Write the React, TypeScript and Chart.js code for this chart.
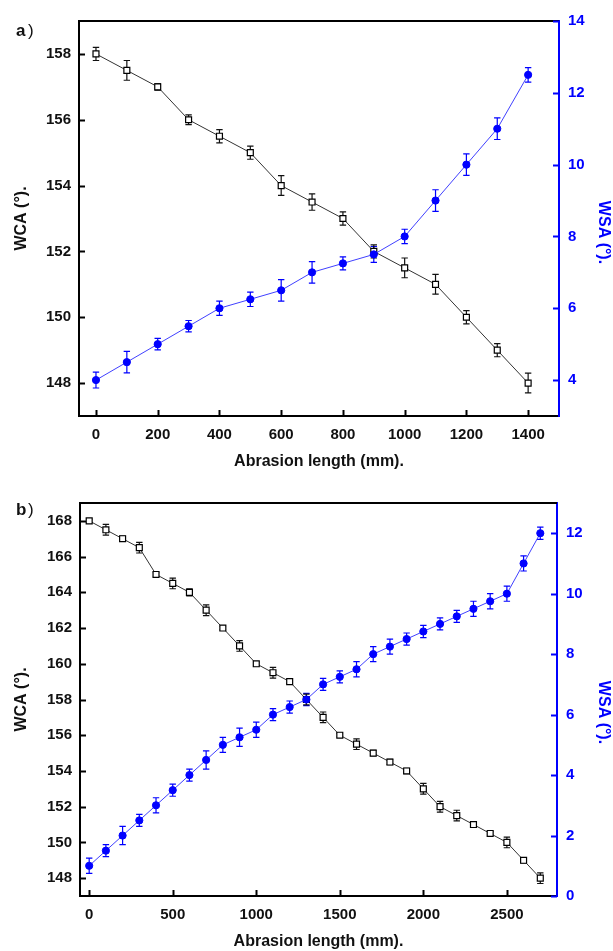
import React, { useEffect, useRef } from 'react';
import { Chart, registerables } from 'chart.js';

Chart.register(...registerables);

// ---- Panel a) ----
const lengthsA = [0, 100, 200, 300, 400, 500, 600, 700, 800, 900, 1000, 1100, 1200, 1300, 1400];
const wcaA = [158, 157.5, 157, 156, 155.5, 155, 154, 153.5, 153, 152, 151.5, 151, 150, 149, 148];
const wcaErrA = [0.2, 0.3, 0.1, 0.15, 0.2, 0.2, 0.3, 0.25, 0.2, 0.2, 0.3, 0.3, 0.2, 0.2, 0.3];
const wsaA = [4.0, 4.5, 5.0, 5.5, 6.0, 6.25, 6.5, 7.0, 7.25, 7.5, 8.0, 9.0, 10.0, 11.0, 12.5];
const wsaErrA = [0.22, 0.3, 0.16, 0.16, 0.2, 0.2, 0.3, 0.3, 0.18, 0.22, 0.2, 0.3, 0.3, 0.3, 0.2];
const xTicksA = [0, 200, 400, 600, 800, 1000, 1200, 1400];
const wcaTicksA = [148, 150, 152, 154, 156, 158];
const wsaTicksA = [4, 6, 8, 10, 12, 14];

// ---- Panel b) ----
const lengthsB = [0, 100, 200, 300, 400, 500, 600, 700, 800, 900, 1000, 1100, 1200, 1300,
  1400, 1500, 1600, 1700, 1800, 1900, 2000, 2100, 2200, 2300, 2400, 2500, 2600, 2700];
const wcaB = [168, 167.5, 167, 166.5, 165, 164.5, 164, 163, 162, 161, 160, 159.5, 159, 158,
  157, 156, 155.5, 155, 154.5, 154, 153, 152, 151.5, 151, 150.5, 150, 149, 148];
const wcaErrB = [0.1, 0.3, 0.15, 0.3, 0.1, 0.3, 0.2, 0.3, 0.1, 0.3, 0.1, 0.3, 0.1, 0.3,
  0.3, 0.1, 0.3, 0.15, 0.15, 0.15, 0.3, 0.3, 0.3, 0.15, 0.1, 0.3, 0.15, 0.3];
const wsaB = [1.0, 1.5, 2.0, 2.5, 3.0, 3.5, 4.0, 4.5, 5.0, 5.25, 5.5, 6.0, 6.25, 6.5,
  7.0, 7.25, 7.5, 8.0, 8.25, 8.5, 8.75, 9.0, 9.25, 9.5, 9.75, 10.0, 11.0, 12.0];
const wsaErrB = [0.25, 0.2, 0.3, 0.2, 0.25, 0.2, 0.2, 0.3, 0.25, 0.3, 0.25, 0.2, 0.2, 0.2,
  0.2, 0.2, 0.25, 0.25, 0.25, 0.2, 0.2, 0.2, 0.2, 0.25, 0.25, 0.25, 0.25, 0.2];
const xTicksB = [0, 500, 1000, 1500, 2000, 2500];
const wcaTicksB = [148, 150, 152, 154, 156, 158, 160, 162, 164, 166, 168];
const wsaTicksB = [0, 2, 4, 6, 8, 10, 12];

const FONT = 'Liberation Sans, Arial, sans-serif';
const BLUE = '#0000ff';
const INK = '#111111';

// Vertical error bars with caps, drawn beneath the markers
const errorBarPlugin = {
  id: 'errorBars',
  beforeDatasetsDraw(chart: any) {
    const ctx = chart.ctx;
    chart.data.datasets.forEach((ds: any, i: number) => {
      if (!ds.errors) return;
      const meta = chart.getDatasetMeta(i);
      const yScale = chart.scales[ds.yAxisID];
      ctx.save();
      ctx.strokeStyle = ds.errorColor;
      ctx.lineWidth = 1.2;
      meta.data.forEach((pt: any, j: number) => {
        const v = ds.data[j].y;
        const e = ds.errors[j];
        const x = pt.x;
        const y1 = yScale.getPixelForValue(v + e);
        const y2 = yScale.getPixelForValue(v - e);
        ctx.beginPath();
        ctx.moveTo(x, y1);
        ctx.lineTo(x, y2);
        ctx.moveTo(x - 3.2, y1);
        ctx.lineTo(x + 3.2, y1);
        ctx.moveTo(x - 3.2, y2);
        ctx.lineTo(x + 3.2, y2);
        ctx.stroke();
      });
      ctx.restore();
    });
  },
};

// Top frame line, inward tick marks, right-hand axis title and the panel letter
const framePlugin = {
  id: 'frame',
  afterDraw(chart: any, _args: any, opts: any) {
    const ctx = chart.ctx;
    const { left, right, top, bottom } = chart.chartArea;
    ctx.save();
    ctx.strokeStyle = '#000';
    ctx.lineWidth = 2;
    ctx.beginPath();
    ctx.moveTo(left - 1, top);
    ctx.lineTo(right, top);
    ctx.stroke();

    const len = 6;
    const xs = chart.scales.x;
    xs.ticks.forEach((t: any) => {
      const px = Math.round(xs.getPixelForValue(t.value)) + 0.5;
      ctx.beginPath();
      ctx.moveTo(px, bottom);
      ctx.lineTo(px, bottom - len);
      ctx.stroke();
    });
    const ys = chart.scales.y;
    ys.ticks.forEach((t: any) => {
      const py = Math.round(ys.getPixelForValue(t.value)) + 0.5;
      ctx.beginPath();
      ctx.moveTo(left, py);
      ctx.lineTo(left + len, py);
      ctx.stroke();
    });
    const ys1 = chart.scales.y1;
    ctx.strokeStyle = BLUE;
    ys1.ticks.forEach((t: any) => {
      const py = Math.round(ys1.getPixelForValue(t.value)) + 0.5;
      ctx.beginPath();
      ctx.moveTo(right, py);
      ctx.lineTo(right - len, py);
      ctx.stroke();
    });

    // right axis title, reading top to bottom
    ctx.save();
    ctx.translate(603, (top + bottom) / 2 + opts.rightTitleShift);
    ctx.rotate(Math.PI / 2);
    ctx.fillStyle = BLUE;
    ctx.font = `bold 16px ${FONT}`;
    ctx.textAlign = 'center';
    ctx.textBaseline = 'middle';
    ctx.fillText('WSA (°).', 0, 0);
    ctx.restore();

    ctx.fillStyle = INK;
    ctx.textBaseline = 'alphabetic';
    ctx.textAlign = 'left';
    ctx.font = `bold 17px ${FONT}`;
    ctx.fillText(opts.letter, 16, opts.baseline);
    ctx.font = `17px ${FONT}`;
    ctx.fillText(')', 28, opts.baseline);
    ctx.restore();
  },
};

type PanelProps = {
  lengths: number[];
  wca: number[];
  wcaErr: number[];
  wsa: number[];
  wsaErr: number[];
  xTicks: number[];
  wcaTicks: number[];
  wsaTicks: number[];
  xMin: number;
  xMax: number;
  wcaMin: number;
  wcaMax: number;
  wsaMin: number;
  wsaMax: number;
  height: number;
  top: number;
  padTop: number;
  leftW: number;
  rightW: number;
  bottomH: number;
  xTitlePad: number;
  letter: string;
  letterBaseline: number;
  rightTitleShift: number;
};

function Panel(p: PanelProps) {
  const ref = useRef<HTMLCanvasElement | null>(null);

  useEffect(() => {
    if (!ref.current) return;
    const tickFont = { family: FONT, weight: 'bold' as const, size: 15 };
    const titleFont = { family: FONT, weight: 'bold' as const, size: 16 };
    const setTicks = (vals: number[]) => (scale: any) => {
      scale.ticks = vals.map((v) => ({ value: v }));
    };
    const plain = (v: any) => String(v);

    const chart = new Chart(ref.current, {
      type: 'line',
      data: {
        datasets: [
          {
            label: 'WSA',
            data: p.lengths.map((x, i) => ({ x, y: p.wsa[i] })),
            yAxisID: 'y1',
            order: 0,
            borderColor: 'rgba(30,30,255,0.85)',
            borderWidth: 1,
            pointStyle: 'circle',
            pointRadius: 3.6,
            pointBackgroundColor: BLUE,
            pointBorderColor: BLUE,
            pointBorderWidth: 1,
            tension: 0,
            errors: p.wsaErr,
            errorColor: BLUE,
          } as any,
          {
            label: 'WCA',
            data: p.lengths.map((x, i) => ({ x, y: p.wca[i] })),
            yAxisID: 'y',
            order: 1,
            borderColor: '#333333',
            borderWidth: 1,
            pointStyle: 'rect',
            pointRadius: 4.2,
            pointBackgroundColor: '#ffffff',
            pointBorderColor: '#000000',
            pointBorderWidth: 1.2,
            tension: 0,
            errors: p.wcaErr,
            errorColor: '#111111',
          } as any,
        ],
      },
      options: {
        animation: false,
        responsive: false,
        events: [],
        layout: { padding: { top: p.padTop, left: 0, right: 0, bottom: 0 } },
        plugins: {
          legend: { display: false },
          tooltip: { enabled: false },
          frame: { letter: p.letter, baseline: p.letterBaseline, rightTitleShift: p.rightTitleShift },
        } as any,
        scales: {
          x: {
            type: 'linear',
            position: 'bottom',
            min: p.xMin,
            max: p.xMax,
            afterBuildTicks: setTicks(p.xTicks),
            afterFit: (s: any) => { s.height = p.bottomH; },
            grid: { display: false, drawTicks: false },
            border: { display: true, color: '#000', width: 2 },
            ticks: { autoSkip: false, maxRotation: 0, font: tickFont, color: INK, padding: 10, callback: plain },
            title: {
              display: true,
              text: 'Abrasion length (mm).',
              font: titleFont,
              color: INK,
              padding: { top: 0, bottom: p.xTitlePad },
            },
          },
          y: {
            type: 'linear',
            position: 'left',
            min: p.wcaMin,
            max: p.wcaMax,
            afterBuildTicks: setTicks(p.wcaTicks),
            afterFit: (s: any) => { s.width = p.leftW; },
            grid: { display: false, drawTicks: false },
            border: { display: true, color: '#000', width: 2 },
            ticks: { autoSkip: false, font: tickFont, color: INK, padding: 8, callback: plain },
            title: {
              display: true,
              text: 'WCA (°).',
              font: titleFont,
              color: INK,
              padding: { top: 12, bottom: 0 },
            },
          },
          y1: {
            type: 'linear',
            position: 'right',
            min: p.wsaMin,
            max: p.wsaMax,
            afterBuildTicks: setTicks(p.wsaTicks),
            afterFit: (s: any) => { s.width = p.rightW; },
            grid: { display: false, drawTicks: false },
            border: { display: true, color: BLUE, width: 2 },
            ticks: { autoSkip: false, font: tickFont, color: BLUE, padding: 9, callback: plain },
            title: { display: false },
          },
        },
      },
      plugins: [errorBarPlugin, framePlugin],
    });
    return () => chart.destroy();
  }, []);

  return (
    <canvas
      ref={ref}
      width={613}
      height={p.height}
      style={{ position: 'absolute', left: 0, top: p.top, width: 613, height: p.height }}
    />
  );
}

export default function App() {
  return (
    <div style={{ position: 'absolute', left: 0, top: 0, width: 613, height: 951, background: '#fff' }}>
      <Panel
        lengths={lengthsA} wca={wcaA} wcaErr={wcaErrA} wsa={wsaA} wsaErr={wsaErrA}
        xTicks={xTicksA} wcaTicks={wcaTicksA} wsaTicks={wsaTicksA}
        xMin={-55} xMax={1500} wcaMin={147} wcaMax={159} wsaMin={3} wsaMax={14}
        height={475} top={0} padTop={21} leftW={79} rightW={54} bottomH={59}
        xTitlePad={4} letter="a" letterBaseline={36} rightTitleShift={14}
      />
      <Panel
        lengths={lengthsB} wca={wcaB} wcaErr={wcaErrB} wsa={wsaB} wsaErr={wsaErrB}
        xTicks={xTicksB} wcaTicks={wcaTicksB} wsaTicks={wsaTicksB}
        xMin={-55} xMax={2800} wcaMin={147} wcaMax={169} wsaMin={0} wsaMax={13}
        height={476} top={475} padTop={28} leftW={80} rightW={56} bottomH={55}
        xTitlePad={0} letter="b" letterBaseline={40} rightTitleShift={13}
      />
    </div>
  );
}
